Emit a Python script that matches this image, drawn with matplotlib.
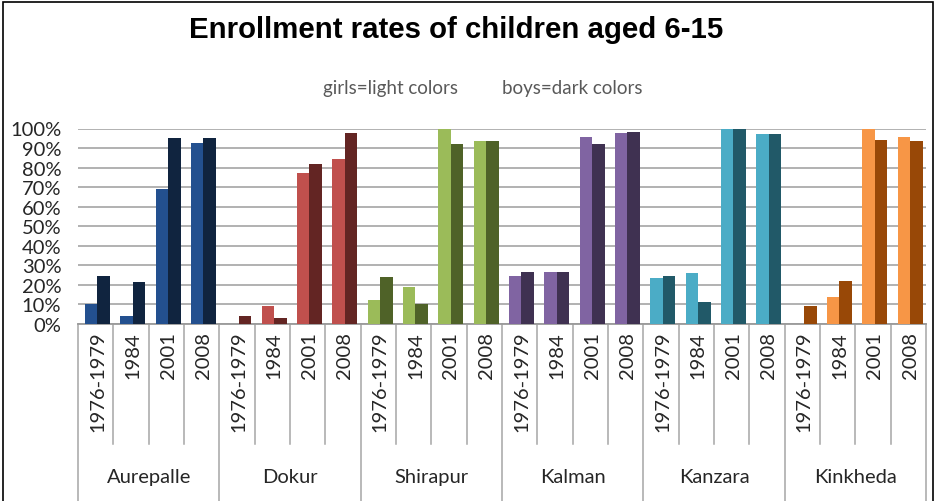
import numpy as np
import matplotlib.pyplot as plt
from matplotlib.patches import Rectangle

villages = ['Aurepalle', 'Dokur', 'Shirapur', 'Kalman', 'Kanzara', 'Kinkheda']
periods = ['1976-1979', '1984', '2001', '2008']

# enrollment rates (%) per village, one entry per period
girls = [
    [10, 4, 69, 92.5],
    [0, 9, 77, 84.5],
    [12.5, 19, 100, 93.5],
    [24.5, 26.5, 95.5, 97.5],
    [23.5, 26, 100, 97],
    [0, 14, 100, 95.5],
]
boys = [
    [24.5, 21.5, 95, 95],
    [4, 3, 82, 97.5],
    [24, 10, 92, 93.5],
    [26.5, 26.5, 92, 98],
    [24.5, 11, 100, 97],
    [9, 22, 94, 93.5],
]

girls_colors = ['#23508F', '#C0504D', '#9BBB59', '#8064A2', '#4BACC6', '#F79646']
boys_colors = ['#10243F', '#632523', '#4F6228', '#3F3151', '#215968', '#984807']

plt.rcParams['font.family'] = ['Lato', 'DejaVu Sans']

fig = plt.figure(figsize=(9.42, 5.02), dpi=100)
ax = fig.add_axes([78 / 942, 1 - 325 / 502, (926 - 78) / 942, (325 - 129.5) / 502])

n_per = len(periods)
bw = 0.355
for i, v in enumerate(villages):
    x = np.arange(n_per) + i * n_per
    ax.bar(x - bw / 2 + 0.05, girls[i], bw, color=girls_colors[i], zorder=3)
    ax.bar(x + bw / 2 + 0.05, boys[i], bw, color=boys_colors[i], zorder=3)

n_cat = len(villages) * n_per
ax.set_xlim(-0.5, n_cat - 0.5)
ax.set_ylim(0, 100)
ax.set_yticks(np.arange(0, 101, 10))
ax.set_yticklabels([f'{t}%' for t in range(0, 101, 10)], fontsize=14.5, color='#262626')
ax.tick_params(axis='y', length=0, pad=12)
ax.set_xticks([])
ax.grid(axis='y', color='#ababab', lw=1.3, zorder=0)
for s in ['left', 'right', 'top']:
    ax.spines[s].set_visible(False)
ax.spines['bottom'].set_color('#9a9a9a')
ax.spines['bottom'].set_linewidth(1.3)

# two-level category axis under the bars
tr = ax.get_xaxis_transform()
for k in range(n_cat + 1):
    xb = k - 0.5
    y_end = -1.2 if k % n_per == 0 else -0.614
    ax.plot([xb, xb], [0, y_end], transform=tr, color='#a6a6a6', lw=1.1, clip_on=False)
for k in range(n_cat):
    ax.text(k + 0.05, -0.035, periods[k % n_per], transform=tr, rotation=90,
            ha='center', va='top', fontsize=14.5, color='#262626')
for i, v in enumerate(villages):
    ax.text(i * n_per + 1.5, -0.78, v, transform=tr, ha='center', va='center',
            fontsize=14.5, color='#262626')

fig.text(0.484, 0.94, 'Enrollment rates of children aged 6-15', ha='center', va='center',
         fontsize=21.2, fontweight='bold', family='Liberation Sans')
fig.text(0.415, 0.823, 'girls=light colors', ha='center', va='center', fontsize=13.5, color='#595959')
fig.text(0.607, 0.823, 'boys=dark colors', ha='center', va='center', fontsize=13.5, color='#595959')

fig.patches.append(Rectangle((2.5 / 942, -0.1), (933 - 2.5) / 942, 1.1 - 2.5 / 502,
                             transform=fig.transFigure, fill=False, ec='black', lw=1.2))

fig.savefig('out.png', dpi=100)
